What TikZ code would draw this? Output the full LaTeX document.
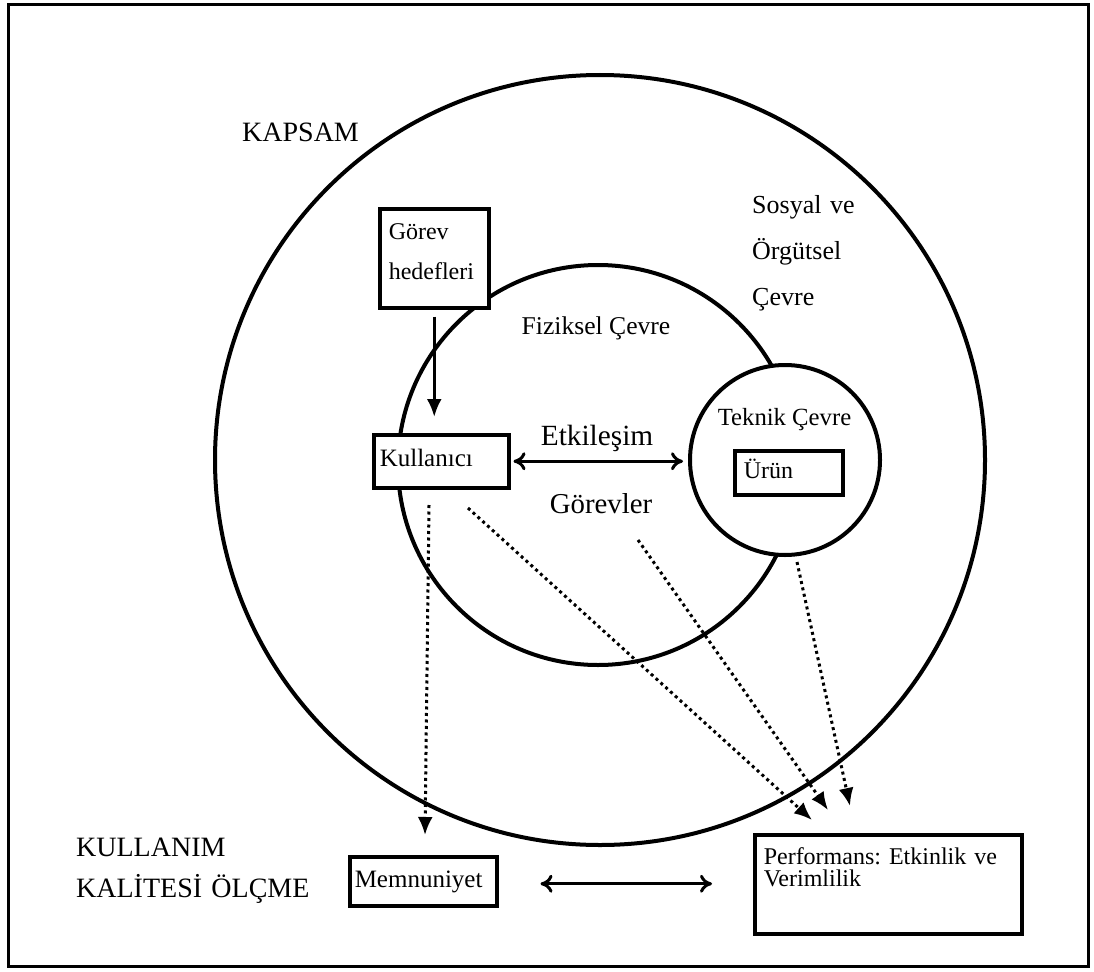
\documentclass[tikz,border=0pt]{standalone}
\usepackage{fontspec}
\setmainfont{Liberation Serif}
\usetikzlibrary{arrows.meta}
\frenchspacing
\begin{document}
\begin{tikzpicture}[x=1pt,y=-1pt,
  ring/.style={circle, draw, line width=4pt, inner sep=0pt},
  box/.style={draw, fill=white, line width=3.5pt, inner ysep=0pt, anchor=north west, align=left},
  bigtext/.style={font=\fontsize{28}{34}\selectfont, inner sep=0pt},
  boxtext/.style={font=\fontsize{24.5}{30}\selectfont},
  solidarrow/.style={line width=3pt, -{Latex[length=18pt,width=15pt]}},
  dotarrow/.style={line width=3pt, dash pattern=on 3pt off 3.5pt, -{Latex[length=18pt,width=15pt]}},
  twoway/.style={line width=3pt, {Computer Modern Rightarrow[length=12pt,width=18pt]}-{Computer Modern Rightarrow[length=12pt,width=18pt]}},
]
\useasboundingbox (0,0) rectangle (1094,971);
\draw[line width=3pt] (8,5) rectangle (1088,966);

% nested environment rings
\node[ring, minimum size=770pt] (kapsam) at (600,460) {};
\node[ring, minimum size=400pt] (fiziksel) at (598,465) {};
\node[ring, fill=white, minimum size=190pt] (teknik) at (785,460) {};

% ring labels
\node[bigtext, anchor=base west] (kapsamlbl) at (242,141) {KAPSAM};
\node[bigtext, anchor=base, font=\fontsize{25.6}{30}\selectfont] (fizlbl) at (596,334) {Fiziksel Çevre};
\node[bigtext, anchor=base west, font=\fontsize{26}{46}\selectfont, text width=120pt, align=left] (sosyal) at (752,213) {Sosyal ve\\Örgütsel\\Çevre};
\node[bigtext, anchor=base, font=\fontsize{24.7}{30}\selectfont] (teklbl) at (784.5,425) {Teknik Çevre};
\node[bigtext, anchor=base, font=\fontsize{29.3}{34}\selectfont] (etk) at (597,445) {Etkileşim};
\node[bigtext, anchor=base, font=\fontsize{28.8}{34}\selectfont] (gorevler) at (601,513) {Görevler};
\node[bigtext, anchor=base west, font=\fontsize{28}{41}\selectfont, text width=260pt, align=left] (olcme) at (76,856) {KULLANIM\\KALİTESİ ÖLÇME};

% boxes
\node[box, boxtext, font=\fontsize{24}{40}\selectfont, inner xsep=9pt, text width=91pt, text height=31pt, text depth=68pt] (gorev) at (378,207) {Görev\\hedefleri};
\node[box, boxtext, font=\fontsize{25}{30}\selectfont, inner xsep=6pt, text width=123pt, text height=32pt, text depth=21pt] (kullanici) at (372,433) {Kullanıcı};
\node[box, boxtext, font=\fontsize{24}{30}\selectfont, inner xsep=9pt, text width=90pt, text height=28pt, text depth=16pt] (urun) at (733,449) {Ürün};
\node[box, boxtext, font=\fontsize{25}{30}\selectfont, inner xsep=5pt, text width=137pt, text height=31pt, text depth=18pt] (memnun) at (348,855) {Memnuniyet};
\node[box, boxtext, font=\fontsize{24}{22}\selectfont, inner xsep=9pt, text width=249pt, text height=30pt, text depth=69pt] (perf) at (753,833) {Performans: Etkinlik ve\\Verimlilik};

% solid connectors
\draw[solidarrow, shorten <=7pt, shorten >=16pt] (gorev.south) -- (gorev.south |- kullanici.north);
\draw[twoway, shorten <=3pt, shorten >=5pt] (kullanici.east) -- (kullanici.east -| teknik.west);
\draw[twoway, shorten <=42pt, shorten >=41pt] ([yshift=-2.5pt]memnun.east) -- ([yshift=-2.5pt]memnun.east -| perf.west);

% dotted influences
\coordinate (s1) at (429,505);
\coordinate (s2) at (468,508);
\coordinate (s3) at (638,540);
\coordinate (s4) at (797,562);
\coordinate (t1) at (425,835);
\coordinate (t2) at (812,820);
\coordinate (t3) at (828,810);
\coordinate (t4) at (850,806);
\draw[dotarrow] (s1) -- (t1);
\draw[dotarrow] (s2) -- (t2);
\draw[dotarrow] (s3) -- (t3);
\draw[dotarrow] (s4) -- (t4);
\end{tikzpicture}
\end{document}
